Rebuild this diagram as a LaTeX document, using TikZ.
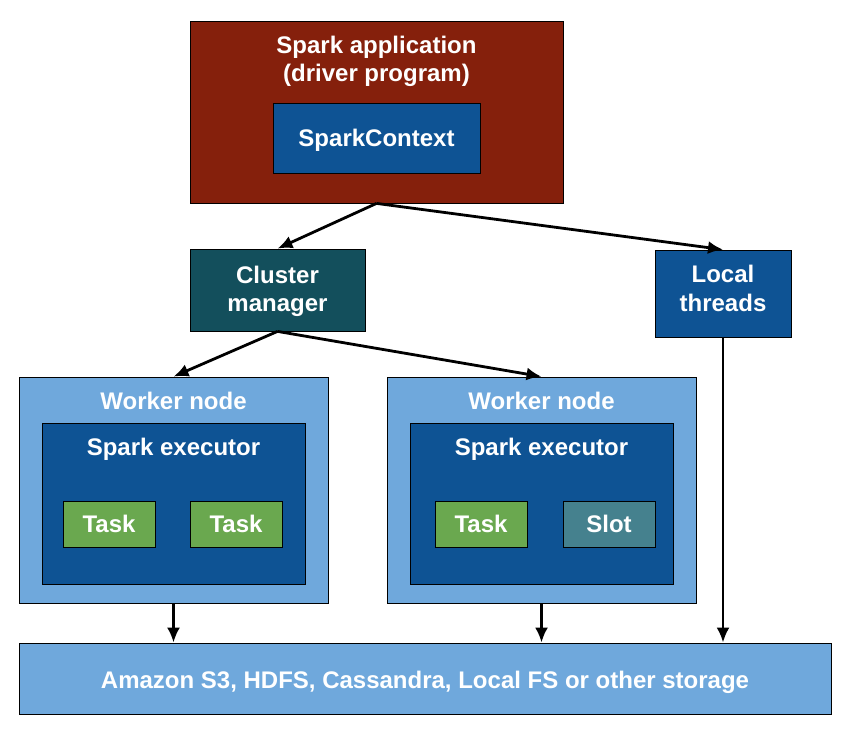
\documentclass[tikz,border=0pt]{standalone}
\usepackage{fontspec}
\setmainfont{Liberation Sans}
\usetikzlibrary{arrows.meta}
\definecolor{appred}{HTML}{85200C}
\definecolor{ctxblue}{HTML}{0E5394}
\definecolor{cmteal}{HTML}{134F5C}
\definecolor{lightblue}{HTML}{6FA8DC}
\definecolor{taskgreen}{HTML}{6AA84F}
\definecolor{slotteal}{HTML}{45818E}
\begin{document}
\begin{tikzpicture}[x=1pt,y=-1pt,>={Latex[length=15pt,width=13pt]}]
        \tikzstyle{box}=[rectangle, draw=black, line width=0.8pt, inner sep=0pt, text=white, align=center, text depth=0pt, font=\fontsize{24}{28.5}\selectfont\bfseries]
        \tikzstyle{title}=[anchor=north, text=white, align=center, inner sep=0pt, font=\fontsize{24}{28.5}\selectfont\bfseries]
        \tikzstyle{link}=[->, line width=2.8pt]
        \useasboundingbox (0,0) rectangle (851,738);
        \node[box, fill=appred, minimum width=373pt, minimum height=182pt, label={[title, yshift=-15pt]north:Spark application\\(driver program)}] (app) at (376.5,112) {};
        \node[box, fill=ctxblue, minimum width=207pt, minimum height=70pt] (ctx) at (376.5,138) {SparkContext};
        \node[box, fill=cmteal, minimum width=175pt, minimum height=82pt, text depth=2pt] (cm) at (277.5,290) {Cluster\\manager};
        \node[box, fill=ctxblue, minimum width=136pt, minimum height=87pt, text depth=10pt] (lt) at (723,293.5) {Local\\threads};
        \node[box, fill=lightblue, minimum width=309pt, minimum height=226pt, label={[title, yshift=-15pt]north:Worker node}] (w1) at (173.5,490) {};
        \node[box, fill=ctxblue, minimum width=263pt, minimum height=161pt, label={[title, yshift=-15pt]north:Spark executor}] (e1) at (173.5,503.5) {};
        \node[box, fill=taskgreen, minimum width=92pt, minimum height=46pt] (t1) at (109,524) {Task};
        \node[box, fill=taskgreen, minimum width=92pt, minimum height=46pt] (t2) at (236,524) {Task};
        \node[box, fill=lightblue, minimum width=309pt, minimum height=226pt, label={[title, yshift=-15pt]north:Worker node}] (w2) at (541.5,490) {};
        \node[box, fill=ctxblue, minimum width=263pt, minimum height=161pt, label={[title, yshift=-15pt]north:Spark executor}] (e2) at (541.5,503.5) {};
        \node[box, fill=taskgreen, minimum width=92pt, minimum height=46pt] (t3) at (481,524) {Task};
        \node[box, fill=slotteal, minimum width=92pt, minimum height=46pt] (s1) at (609,524) {Slot};
        \node[box, fill=lightblue, minimum width=812pt, minimum height=71pt, text height=19pt] (st) at (425,678.5) {Amazon S3, HDFS, Cassandra, Local FS or other storage};
        \draw[link] (app.south) -- (cm.north);
        \draw[link] (app.south) -- (lt.north);
        \draw[link] (cm.south) -- (w1.north);
        \draw[link] (cm.south) -- (w2.north);
        \draw[link] (w1.south) -- (w1.south |- st.north);
        \draw[link] (w2.south) -- (w2.south |- st.north);
        \draw[link] (lt.south) -- (lt.south |- st.north);
    \end{tikzpicture}
\end{document}
